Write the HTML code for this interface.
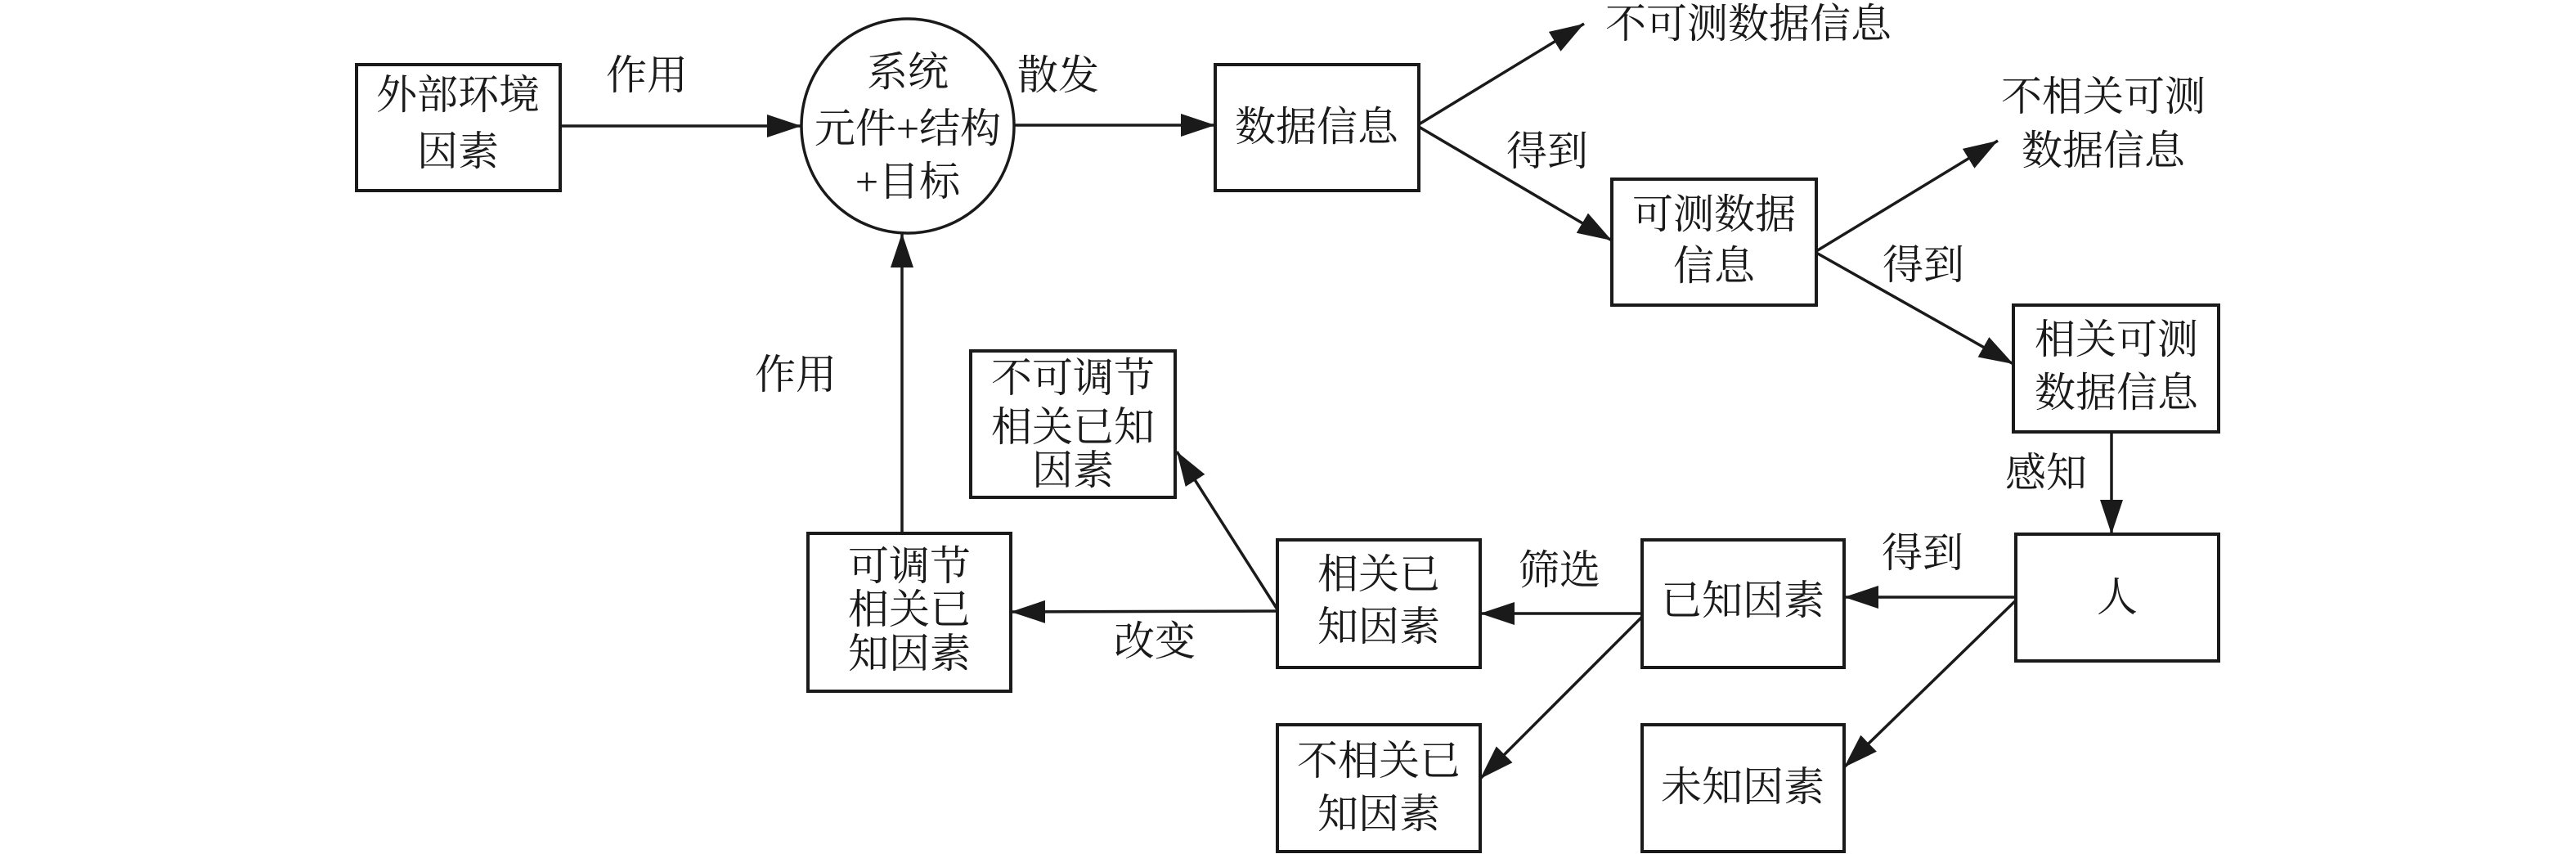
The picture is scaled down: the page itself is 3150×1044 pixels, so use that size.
<!DOCTYPE html>
<html><head><meta charset="utf-8"><style>
html,body{margin:0;padding:0;background:#fff;}
svg{display:block;}
text{font-family:"Liberation Serif","Noto Serif CJK SC",serif;font-size:50px;fill:#1a1a1a;}
</style></head><body>
<svg width="3150" height="1044" viewBox="0 0 3150 1044" xmlns="http://www.w3.org/2000/svg">
<defs>
<marker id="a" markerUnits="userSpaceOnUse" markerWidth="44" markerHeight="28" refX="42" refY="14" orient="auto">
<path d="M0,0 L42,14 L0,28 z" fill="#1a1a1a"/>
</marker>
</defs>
<g fill="none" stroke="#1a1a1a" stroke-width="4">
<rect x="436" y="79" width="249" height="154"/>
<ellipse cx="1110" cy="154" rx="130" ry="131" stroke-width="3.5"/>
<rect x="1486" y="79" width="249" height="154"/>
<rect x="1971" y="219" width="250" height="154"/>
<rect x="2462" y="373" width="251" height="155"/>
<rect x="2465" y="653" width="248" height="155"/>
<rect x="2008" y="660" width="247" height="156"/>
<rect x="1562" y="660" width="248" height="156"/>
<rect x="1187" y="429" width="250" height="179"/>
<rect x="988" y="652" width="248" height="193"/>
<rect x="1562" y="886" width="248" height="155"/>
<rect x="2008" y="886" width="247" height="155"/>
</g>
<g stroke="#1a1a1a" stroke-width="3.5" fill="none" marker-end="url(#a)">
<line x1="685" y1="154" x2="980" y2="154"/>
<line x1="1239" y1="153" x2="1486" y2="153"/>
<line x1="1103" y1="652" x2="1103" y2="285"/>
<line x1="1735" y1="152" x2="1937" y2="29"/>
<line x1="1735" y1="155" x2="1971" y2="294"/>
<line x1="2221" y1="307" x2="2443" y2="172"/>
<line x1="2221" y1="309" x2="2462" y2="445"/>
<line x1="2582" y1="528" x2="2582" y2="653"/>
<line x1="2465" y1="730" x2="2255" y2="730"/>
<line x1="2008" y1="750" x2="1810" y2="750"/>
<line x1="1562" y1="747" x2="1236" y2="748"/>
<line x1="1562" y1="745" x2="1439" y2="552"/>
<line x1="2008" y1="754" x2="1810" y2="952"/>
<line x1="2465" y1="734" x2="2255" y2="938"/>
</g>
<g text-anchor="middle" dominant-baseline="central">
<text x="560" y="116">外部环境</text><text x="560" y="185">因素</text>
<text x="1110" y="88">系统</text><text x="1110" y="157">元件+结构</text><text x="1110" y="222">+目标</text>
<text x="1610" y="155">数据信息</text>
<text x="791" y="92">作用</text><text x="1294" y="92">散发</text>
<text x="2138" y="29">不可测数据信息</text>
<text x="1892" y="185">得到</text>
<text x="2096" y="262">可测数据</text><text x="2096" y="325">信息</text>
<text x="2572" y="118">不相关可测</text><text x="2572" y="184">数据信息</text>
<text x="2352" y="324">得到</text>
<text x="2588" y="415">相关可测</text><text x="2588" y="480">数据信息</text>
<text x="2502" y="578">感知</text>
<text x="2589" y="730">人</text>
<text x="2131" y="734">已知因素</text>
<text x="2131" y="962">未知因素</text>
<text x="1686" y="702">相关已</text><text x="1686" y="766">知因素</text>
<text x="1686" y="930">不相关已</text><text x="1686" y="995">知因素</text>
<text x="1112" y="692">可调节</text><text x="1112" y="745">相关已</text><text x="1112" y="799">知因素</text>
<text x="1312" y="462">不可调节</text><text x="1312" y="522">相关已知</text><text x="1312" y="575">因素</text>
<text x="973" y="458">作用</text>
<text x="2351" y="676">得到</text>
<text x="1907" y="697">筛选</text>
<text x="1412" y="784">改变</text>
</g>
</svg>
</body></html>
